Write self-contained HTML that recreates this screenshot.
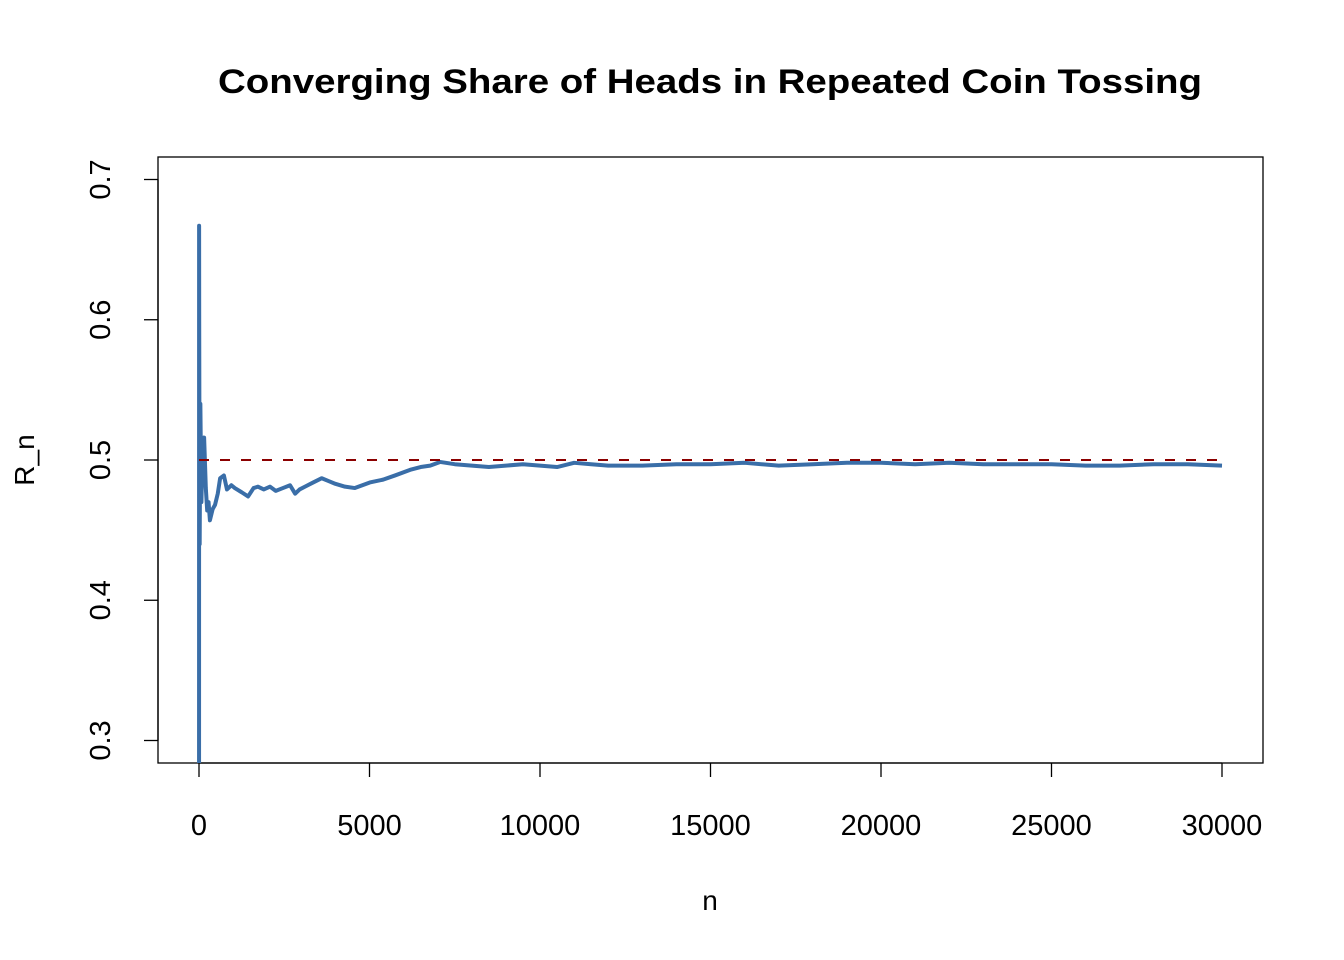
<!DOCTYPE html>
<html><head><meta charset="utf-8"><style>
html,body{margin:0;padding:0;background:#fff;overflow:hidden;width:1344px;height:960px;}
svg{display:block;position:absolute;left:0;top:0;overflow:hidden;font-family:"Liberation Sans",Arial,sans-serif;}
</style></head><body>
<svg id="chart" width="1344" height="960" viewBox="0 0 1344 960">
<defs><clipPath id="pc"><rect x="158" y="157" width="1105" height="606"/></clipPath></defs>
<text x="710" y="93" text-anchor="middle" font-size="34" font-weight="bold" textLength="984" lengthAdjust="spacingAndGlyphs">Converging Share of Heads in Repeated Coin Tossing</text>
<rect x="158" y="157" width="1105" height="606" fill="none" stroke="#000" stroke-width="1.3"/>
<g id="xaxis"></g>
<g id="yaxis"></g>
<text x="710" y="910" text-anchor="middle" font-size="28">n</text>
<text transform="translate(34,460) rotate(-90)" text-anchor="middle" font-size="28">R_n</text>
<g id="plot" clip-path="url(#pc)"></g>
</svg>
<script>
const xTicks=[0,5000,10000,15000,20000,25000,30000];
const yTicks=[0.3,0.4,0.5,0.6,0.7];
const nVals=[1,3,6,10,20,40,70,110,150,200,240,280,320,400,470,550,620,730,820,950,1050,1250,1440,1600,1730,1900,2080,2250,2460,2670,2820,2950,3110,3350,3600,3800,4000,4280,4570,5010,5400,5750,6190,6500,6780,7070,7500,8000,8500,9000,9500,10000,10500,11000,11500,12000,13000,14000,15000,16000,17000,18000,19000,20000,21000,22000,23000,24000,25000,26000,27000,28000,29000,30000];
const rVals=[0,0.667,0.6,0.55,0.44,0.54,0.47,0.51,0.516,0.48,0.464,0.47,0.457,0.465,0.468,0.476,0.487,0.489,0.479,0.482,0.480,0.477,0.474,0.480,0.481,0.479,0.481,0.478,0.480,0.482,0.476,0.479,0.481,0.484,0.487,0.485,0.483,0.481,0.480,0.484,0.486,0.489,0.493,0.495,0.496,0.4986,0.497,0.496,0.495,0.496,0.497,0.496,0.495,0.498,0.497,0.496,0.496,0.497,0.497,0.498,0.496,0.497,0.498,0.498,0.497,0.498,0.497,0.497,0.497,0.496,0.496,0.497,0.497,0.496];
const refVal=0.5;
const NS="http://www.w3.org/2000/svg";
const X=n=>199+(n/30000)*1023;
const Y=v=>460-(v-0.5)*1402.5;
function mk(tag,attrs,parent){const e=document.createElementNS(NS,tag);for(const k in attrs)e.setAttribute(k,attrs[k]);parent.appendChild(e);return e;}
const xa=document.getElementById('xaxis');
mk('line',{x1:X(0),x2:X(30000),y1:763,y2:763,stroke:'#000','stroke-width':1.3},xa);
xTicks.forEach(t=>{
 const l=mk('line',{x1:X(t),x2:X(t),y1:763,y2:777,stroke:'#000','stroke-width':1.3},xa);
 
 
 const tx=mk('text',{x:X(t),y:835,'text-anchor':'middle','font-size':29},xa);
 tx.textContent=t;
 
 
});
const ya=document.getElementById('yaxis');
mk('line',{x1:158,x2:158,y1:Y(0.3),y2:Y(0.7),stroke:'#000','stroke-width':1.3},ya);
yTicks.forEach(t=>{
 const l=mk('line',{x1:144,x2:158,y1:Y(t),y2:Y(t),stroke:'#000','stroke-width':1.3},ya);
 
 
 const tx=mk('text',{transform:`translate(110,${Y(t)}) rotate(-90)`,'text-anchor':'middle','font-size':29},ya);
 tx.textContent=t.toFixed(1);
 
 
});
const p=document.getElementById('plot');
const pts=nVals.map((n,i)=>X(n).toFixed(2)+','+Y(rVals[i]).toFixed(2)).join(' ');
const line=mk('polyline',{points:pts,fill:'none',stroke:'#3a6ea8','stroke-width':4,'stroke-linejoin':'round'},p);


const ref=mk('line',{x1:X(0),x2:X(30000),y1:Y(refVal),y2:Y(refVal),stroke:'#8b0000','stroke-width':2,'stroke-dasharray':'10 11'},p);


</script>
</body></html>
